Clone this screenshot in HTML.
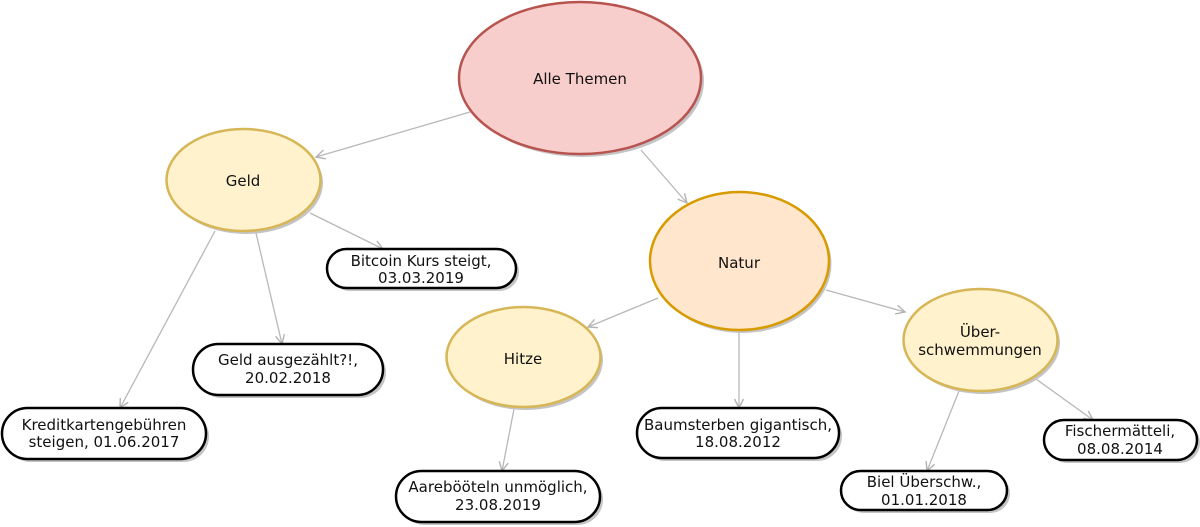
<!DOCTYPE html>
<html><head><meta charset="utf-8"><style>
html,body{margin:0;padding:0;background:#fff;width:1200px;height:527px;overflow:hidden}
text{font-family:"DejaVu Sans","Liberation Sans",sans-serif;font-size:15px;fill:#111;text-anchor:middle}
</style></head><body>
<svg width="1200" height="527" viewBox="0 0 1200 527" xmlns="http://www.w3.org/2000/svg">
<defs>
<marker id="a" markerWidth="12" markerHeight="12" refX="10" refY="6" orient="auto" markerUnits="userSpaceOnUse">
<path d="M1,1.5 L10,6 L1,10.5" fill="none" stroke="#b3b3b3" stroke-width="1.4"/>
</marker>
</defs>
<g stroke="#b8b8b8" stroke-width="1.3" fill="none" marker-end="url(#a)">
<line x1="470" y1="112" x2="316" y2="157"/>
<line x1="641" y1="150" x2="687" y2="203"/>
<line x1="310" y1="213" x2="383" y2="249"/>
<line x1="256" y1="233" x2="282" y2="344"/>
<line x1="215" y1="231" x2="120" y2="408"/>
<line x1="658" y1="298" x2="588" y2="327"/>
<line x1="739" y1="332" x2="739" y2="408"/>
<line x1="826" y1="290" x2="905" y2="312"/>
<line x1="514" y1="409" x2="502" y2="471"/>
<line x1="959" y1="391" x2="927" y2="471"/>
<line x1="1036" y1="379" x2="1093" y2="420"/>
</g>
<g fill="#c4c4c4">
<ellipse cx="583" cy="81" rx="121" ry="76"/>
<ellipse cx="246" cy="183" rx="77" ry="51"/>
<ellipse cx="742" cy="264" rx="89.5" ry="69"/>
<ellipse cx="526" cy="360" rx="77" ry="50"/>
<ellipse cx="983" cy="343" rx="77" ry="51"/>
<rect x="330" y="252" width="189" height="39" rx="19.5"/>
<rect x="196" y="347" width="190" height="51" rx="25.5"/>
<rect x="5" y="411" width="204" height="51" rx="25.5"/>
<rect x="399" y="474" width="204" height="51" rx="25.5"/>
<rect x="640" y="411" width="202" height="50" rx="25"/>
<rect x="844" y="474" width="166" height="39" rx="19.5"/>
<rect x="1047" y="423" width="153" height="40" rx="20"/>
</g>
<ellipse cx="580" cy="78" rx="121" ry="76" fill="#f8cecc" stroke="#b85450" stroke-width="2.5"/>
<ellipse cx="243.5" cy="180" rx="77" ry="51" fill="#fff2cc" stroke="#d6b656" stroke-width="2.5"/>
<ellipse cx="739.5" cy="261" rx="89.5" ry="69" fill="#ffe6cc" stroke="#d79b00" stroke-width="2.5"/>
<ellipse cx="523.5" cy="357" rx="77" ry="50" fill="#fff2cc" stroke="#d6b656" stroke-width="2.5"/>
<ellipse cx="980.5" cy="340" rx="77" ry="51" fill="#fff2cc" stroke="#d6b656" stroke-width="2.5"/>
<g fill="#fff" stroke="#000" stroke-width="2.5">
<rect x="327" y="249" width="189" height="39" rx="19.5"/>
<rect x="193" y="344" width="190" height="51" rx="25.5"/>
<rect x="2" y="408" width="204" height="51" rx="25.5"/>
<rect x="396" y="471" width="204" height="51" rx="25.5"/>
<rect x="637" y="408" width="202" height="50" rx="25"/>
<rect x="841" y="471" width="166" height="39" rx="19.5"/>
<rect x="1044" y="420" width="153" height="40" rx="20"/>
</g>
<text x="580" y="84">Alle Themen</text>
<text x="243" y="186">Geld</text>
<text x="739" y="268">Natur</text>
<text x="523" y="364">Hitze</text>
<text x="980" y="337">Über-</text>
<text x="980" y="355">schwemmungen</text>
<text x="421" y="266">Bitcoin Kurs steigt,</text>
<text x="421" y="283">03.03.2019</text>
<text x="288" y="365">Geld ausgezählt?!,</text>
<text x="288" y="383">20.02.2018</text>
<text x="104" y="430">Kreditkartengebühren</text>
<text x="104" y="447">steigen, 01.06.2017</text>
<text x="498" y="492">Aarebööteln unmöglich,</text>
<text x="498" y="510">23.08.2019</text>
<text x="738" y="430">Baumsterben gigantisch,</text>
<text x="738" y="447">18.08.2012</text>
<text x="924" y="487">Biel Überschw.,</text>
<text x="924" y="505">01.01.2018</text>
<text x="1120" y="436">Fischermätteli,</text>
<text x="1120" y="454">08.08.2014</text>
</svg>
</body></html>
